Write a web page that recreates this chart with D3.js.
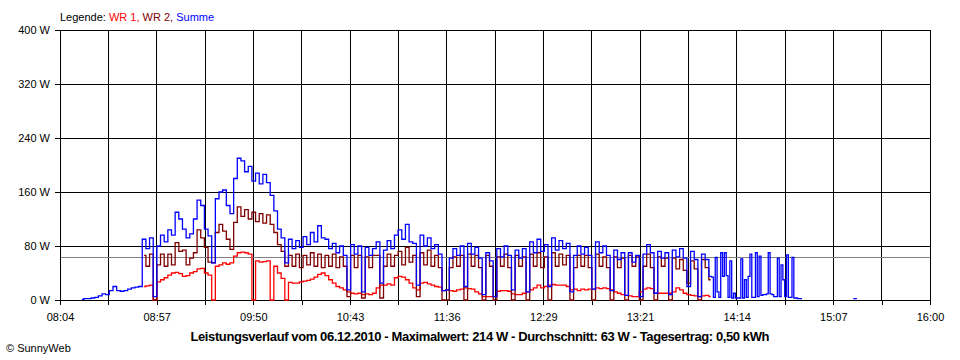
<!DOCTYPE html>
<html><head><meta charset="utf-8">
<script src="https://cdn.jsdelivr.net/npm/d3@7"></script>
<style>
body{margin:0;background:#fff}
svg{display:block}
text{font-family:"Liberation Sans",Arial,sans-serif}
</style>
</head><body>
<svg id="chart" width="960" height="360"></svg>
<script>
// ---- data ----
const timeLabels = ["08:04","08:57","09:50","10:43","11:36","12:29","13:21","14:14","15:07","16:00"];
const yTicks = [0, 80, 160, 240, 320, 400];
const yTickLabels = ["0 W","80 W","160 W","240 W","320 W","400 W"];
const domainStartMin = 484;   // 08:04
const domainEndMin = 960;     // 16:00
const averageW = 63;

// Summe (blue), 2-minute samples from 08:16 to 13:58
const summeStartMin = 496;
const summeStep = 2;
const summe = [
  1,2,2,3,4,6,9,8,14,20,14,13,14,16,18,19,20,
  90,76,92,5,80,96,86,104,96,
  130,120,105,92,98,120,148,140,105,95,55,150,160,163,
  140,128,180,210,206,190,198,176,188,172,186,174,155,132,105,92,55,
  90,76,88,78,94,82,100,86,110,92,90,76,84,70,80,66,15,82,68,80,12,78,66,76,
  86,25,74,88,76,96,104,90,112,86,84,22,96,80,92,76,82,68,14,15,
  62,76,66,80,20,84,68,78,62,8,70,58,5,76,64,80,66,15,74,62,
  76,12,86,70,90,72,82,20,92,74,88,76,84,12,66,80,68,78,66,16,
  86,70,80,66,14,74,60,70,7,70,56,66,5,68,82,70,10,72,62,70,8,
  74,64,76,62,20,72,60,5,68,60
];
// Summe tail, 1-minute samples from 14:00 to 14:50
const summeTailStartMin = 840;
const summeTailStep = 1;
const summeTail = [
  35,34,4,63,12,4,70,35,70,36,
  4,58,3,10,3,3,3,61,3,30,
  4,35,68,4,4,70,5,65,7,8,
  8,9,70,9,8,5,5,62,5,52,
  30,5,67,4,4,63,3,3,2,2,2
];
// Summe late blip, 1-minute samples from 15:18
const summeLateStartMin = 918;
const summeLate = [2,2,2];

// WR 1 (red), 2-minute samples from 08:50 to 14:00
const wr1StartMin = 530;
const wrStep = 2;
const wr1 = [
  20,21,22,0,27,30,33,37,40,
  41,39,35,36,40,42,46,47,40,37,0,50,52,55,
  53,55,65,70,71,70,68,0,58,56,57,58,0,50,40,32,0,
  26,25,25,27,28,29,31,34,38,40,36,30,25,20,18,15,12,10,9,10,8,9,8,10,
  18,22,22,24,22,33,35,34,30,25,18,15,25,26,24,22,20,19,14,15,
  14,13,15,16,18,17,16,12,9,5,5,5,5,13,14,14,13,9,8,8,
  10,12,15,18,22,18,20,22,23,22,22,22,20,15,16,14,16,15,16,16,
  18,17,18,17,15,12,10,8,7,6,5,5,12,16,18,17,10,10,10,10,10,
  12,18,15,10,8,7,6,5,6,7,5
];

// WR 2 (dark red), 2-minute samples from 08:50 to 14:00
const wr2StartMin = 530;
const wr2 = [
  66,50,68,0,52,68,50,68,52,
  85,72,74,52,62,70,104,92,78,56,55,100,112,102,
  90,75,115,138,124,134,120,130,116,128,114,126,112,100,82,72,50,
  66,50,68,48,66,52,70,50,68,48,66,50,68,48,64,50,5,66,48,66,3,64,48,66,
  66,3,50,68,50,66,72,52,78,56,66,5,70,52,74,50,66,48,0,0,
  48,64,50,66,0,68,50,66,48,0,66,50,0,64,50,68,48,0,66,50,
  64,0,68,50,70,48,64,0,70,50,68,52,66,0,48,66,50,66,48,0,
  68,50,64,48,0,64,48,62,0,66,50,64,0,50,68,48,0,64,50,62,0,
  62,46,60,44,25,58,46,0,60,48,30
];

const titleText = "Leistungsverlauf vom 06.12.2010 - Maximalwert: 214 W - Durchschnitt: 63 W - Tagesertrag: 0,50 kWh";

// ---- drawing ----
const svg = d3.select("#chart");
const L = 60, R = 930, T = 30, B = 300;
const x = d3.scaleLinear().domain([domainStartMin, domainEndMin]).range([L, R]);
const y = d3.scaleLinear().domain([0, 400]).range([B, T]);

const nGrid = (timeLabels.length - 1) * 2;
const gridTimes = d3.range(nGrid + 1).map(k => domainStartMin + k * (domainEndMin - domainStartMin) / nGrid);

// grid
const grid = svg.append("g").attr("shape-rendering", "crispEdges").attr("stroke", "#000").attr("stroke-width", 1);
gridTimes.forEach(t => {
  grid.append("line").attr("x1", x(t)).attr("x2", x(t)).attr("y1", T).attr("y2", B);
});
yTicks.forEach(v => {
  grid.append("line").attr("x1", L).attr("x2", R).attr("y1", y(v)).attr("y2", y(v));
});

// average line
svg.append("line").attr("shape-rendering", "crispEdges")
  .attr("x1", L).attr("x2", R).attr("y1", y(averageW)).attr("y2", y(averageW))
  .attr("stroke", "#808080").attr("stroke-width", 1);

// axes
const yAxis = d3.axisLeft(y).tickValues(yTicks).tickSize(5).tickPadding(5)
  .tickFormat((d, i) => yTickLabels[i]);
const gy = svg.append("g").attr("transform", `translate(${L},0)`).call(yAxis);
const xAxis = d3.axisBottom(x).tickValues(gridTimes).tickSize(5).tickPadding(8)
  .tickFormat((d, i) => i % 2 === 0 ? timeLabels[i / 2] : "");
const gx = svg.append("g").attr("transform", `translate(0,${B})`).call(xAxis);
[gy, gx].forEach(g => {
  g.attr("font-family", null).attr("font-size", null);
  g.select(".domain").attr("stroke", "#000").attr("shape-rendering", "crispEdges");
  g.selectAll(".tick line").attr("stroke", "#000").attr("shape-rendering", "crispEdges");
  g.selectAll(".tick text").attr("fill", "#000").style("font-size", "11px");
});

// series
function seriesPoints(start, step, values) {
  return values.map((v, i) => ({ t: start + i * step, v }));
}
const gap = [{ t: 0, v: null }];
const line = d3.line()
  .defined(d => d.v !== null)
  .x(d => x(d.t)).y(d => y(d.v))
  .curve(d3.curveStep);

const series = [
  { pts: seriesPoints(wr1StartMin, wrStep, wr1), color: "#ff0000" },
  { pts: seriesPoints(wr2StartMin, wrStep, wr2), color: "#800000" },
  { pts: seriesPoints(summeStartMin, summeStep, summe)
      .concat(seriesPoints(summeTailStartMin, summeTailStep, summeTail))
      .concat(gap)
      .concat(seriesPoints(summeLateStartMin, summeTailStep, summeLate)), color: "#0000ff" }
];
series.forEach(s => {
  svg.append("path").datum(s.pts).attr("d", line)
    .attr("fill", "none").attr("stroke", s.color).attr("stroke-width", 1.3);
});

// legend
const leg = svg.append("text").attr("x", 60).attr("y", 21).style("font-size", "11px");
leg.append("tspan").attr("fill", "#000").text("Legende: ");
leg.append("tspan").attr("fill", "#ff0000").text("WR 1, ");
leg.append("tspan").attr("fill", "#800000").text("WR 2, ");
leg.append("tspan").attr("fill", "#0000ff").text("Summe");

// title
svg.append("text").attr("x", 480).attr("y", 341).attr("text-anchor", "middle")
  .attr("textLength", 579).attr("lengthAdjust", "spacing")
  .style("font-size", "13px").style("font-weight", "bold").attr("fill", "#000")
  .text(titleText);

// copyright
svg.append("text").attr("x", 6).attr("y", 352).style("font-size", "11px").attr("fill", "#000")
  .text("© SunnyWeb");
</script>
</body></html>
